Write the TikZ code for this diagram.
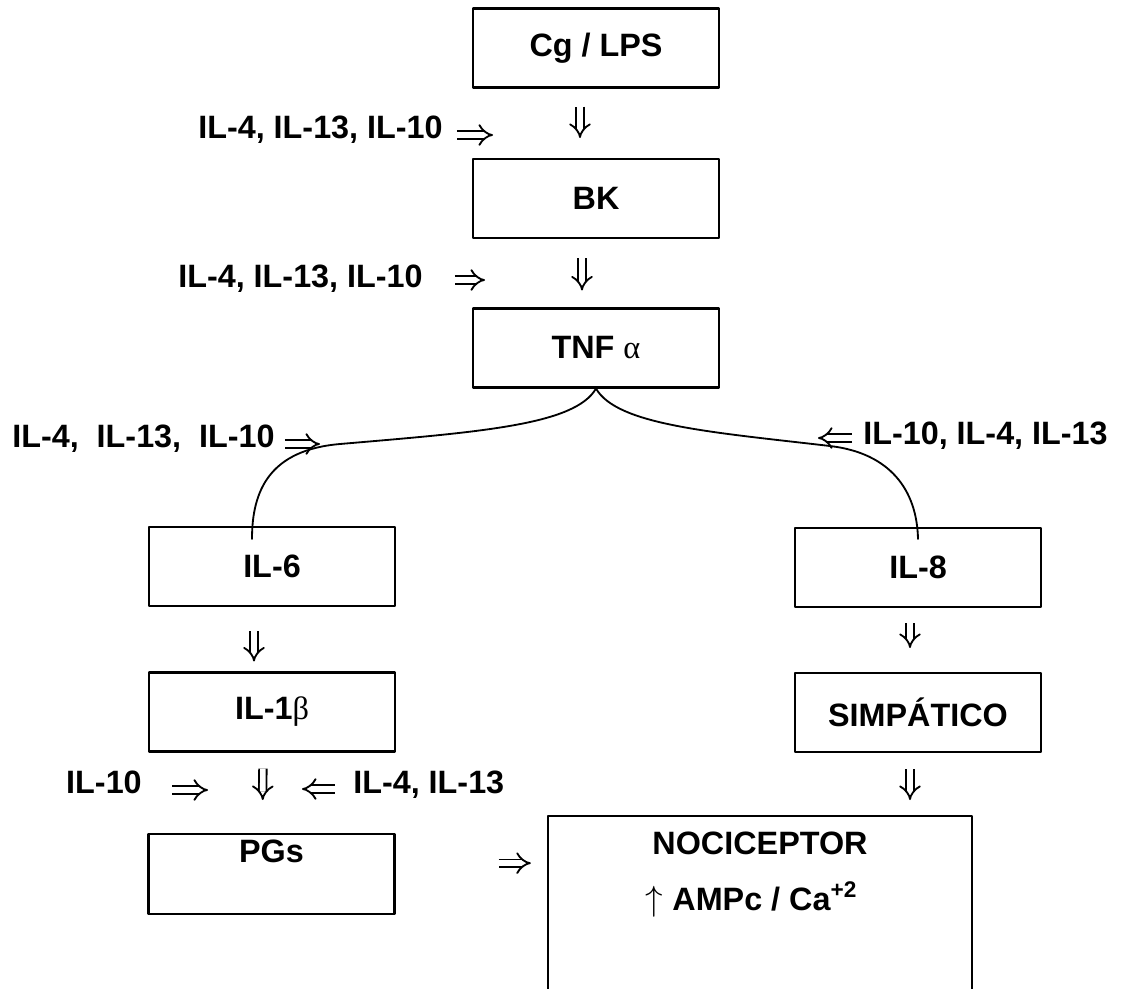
\documentclass[tikz,border=0pt]{standalone}
\usepackage{fontspec}
\setmainfont{Liberation Sans}
\newfontfamily\grkfont{Liberation Serif}
\usetikzlibrary{arrows.meta}

\begin{document}
\begin{tikzpicture}[
        x=0.025cm,y=-0.025cm,
        every node/.style={font=\fontsize{23}{28}\selectfont\bfseries},
        mybox/.style={draw,line width=1.6pt,minimum width=6.15cm,minimum height=1.97cm,inner sep=0pt},
        lbl/.style={inner sep=0pt},
        dbl/.style={double,double distance=4pt,line width=1.3pt,line cap=butt,-{Implies}},
        curve/.style={line width=1.3pt},
        line cap=round,line join=round
    ]
    \useasboundingbox (0,0) rectangle (1125,988);

    % main chain
    \node[mybox] (cg) at (596,48) {Cg / LPS};
    \node[mybox] (bk) at (596,198.5) {BK};
    \node[mybox] (tnf) at (596,348) {TNF {\grkfont\mdseries α}};
    \node[mybox] (il6) at (272,566.5) {IL-6};
    \node[mybox] (il1b) at (272,712) {IL-1{\grkfont\mdseries β}};
    \node[mybox,anchor=north,text height=0.7cm,text depth=1.3cm] (pgs) at (271.5,833) {PGs};
    \node[mybox] (il8) at (918,567.5) {IL-8};
    \node[mybox] (simp) at (918,712.5) {SIMPÁTICO};
    \node[mybox,anchor=north,minimum width=10.6cm,text height=0.95cm,text depth=4.5cm] (noci) at (760,815) {NOCICEPTOR};
    \node[lbl,anchor=base] (ampc) at (751.5,910) {$\uparrow$ AMPc / Ca\textsuperscript{+2}};

    \draw[dbl,shorten <=0.45cm,shorten >=0.5cm] ([xshift=-0.4cm]cg.south) -- ([xshift=-0.4cm]bk.north);
    \draw[dbl,shorten <=0.475cm,shorten >=0.425cm] ([xshift=-0.35cm]bk.south) -- ([xshift=-0.35cm]tnf.north);
    \draw[dbl,shorten <=0.6cm,shorten >=0.25cm] ([xshift=-0.45cm]il6.south) -- ([xshift=-0.45cm]il1b.north);
    \draw[dbl,shorten <=0.4cm,shorten >=0.825cm] ([xshift=-0.225cm]il1b.south) -- ([xshift=-0.225cm]pgs.north);
    \draw[dbl,shorten <=0.375cm,shorten >=0.6cm] ([xshift=-0.2cm]il8.south) -- ([xshift=-0.2cm]simp.north);
    \draw[dbl,shorten <=0.4cm,shorten >=0.375cm] ([xshift=-0.2cm]simp.south) -- ([xshift=-0.2cm]simp.south |- noci.north);
    \draw[dbl,shorten <=2.575cm,shorten >=0.4cm] ([yshift=0.275cm]pgs.east) -- ([yshift=0.275cm]pgs.east -| noci.west);

    % branches out of TNF
    \draw[curve] (tnf.south) .. controls (575,425) and (480,432) .. (340,444)
        .. controls (270,450) and (252,490) .. ([xshift=-0.5cm,yshift=-0.325cm]il6.north);
    \draw[curve] (tnf.south) .. controls (617,425) and (710,432) .. (830,446)
        .. controls (890,453) and (917,490) .. ([yshift=-0.3cm]il8.north);

    % inhibitors
    \node[lbl,anchor=base west] (inh1) at (198,138) {IL-4, IL-13, IL-10};
    \coordinate (inh1tip) at (493,135);
    \draw[dbl,shorten <=0.35cm] (inh1.east |- inh1tip) -- (inh1tip);

    \node[lbl,anchor=base west] (inh2) at (178,287) {IL-4, IL-13, IL-10};
    \coordinate (inh2tip) at (485,280);
    \draw[dbl,shorten <=0.8cm] (inh2.east |- inh2tip) -- (inh2tip);

    \node[lbl,anchor=base west] (inh3) at (12,447) {IL-4,~ IL-13,~ IL-10};
    \coordinate (inh3tip) at (320,444);
    \draw[dbl,shorten <=0.25cm] (inh3.east |- inh3tip) -- (inh3tip);

    \node[lbl,anchor=base west] (inh4) at (863,444) {IL-10, IL-4, IL-13};
    \coordinate (inh4tip) at (818,438);
    \draw[dbl,shorten <=0.275cm] (inh4.west |- inh4tip) -- (inh4tip);

    \node[lbl,anchor=base east] (inh5) at (142,793) {IL-10};
    \coordinate (inh5tip) at (208,790);
    \draw[dbl,shorten <=0.75cm] (inh5.east |- inh5tip) -- (inh5tip);

    \node[lbl,anchor=base west] (inh6) at (353,793) {IL-4, IL-13};
    \coordinate (inh6tip) at (302,789);
    \draw[dbl,shorten <=0.45cm] (inh6.west |- inh6tip) -- (inh6tip);
\end{tikzpicture}
\end{document}
